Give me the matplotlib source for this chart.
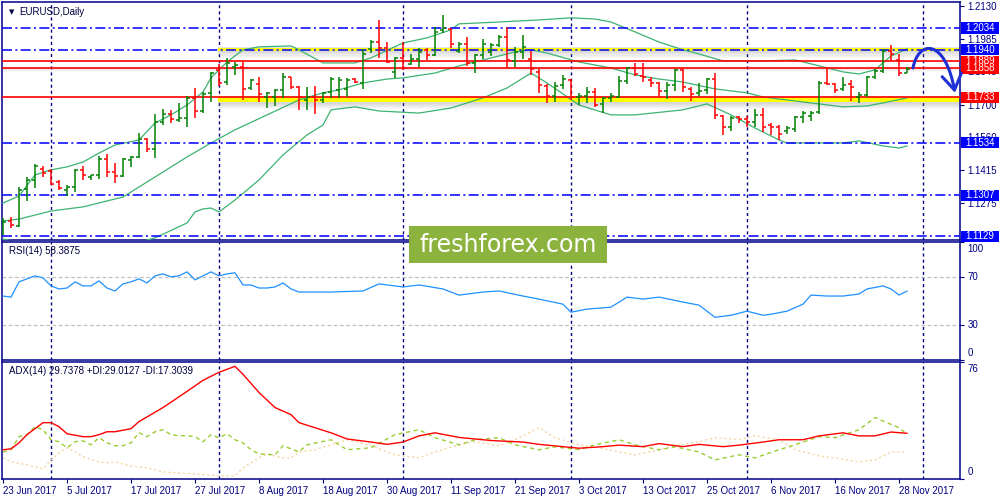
import matplotlib
matplotlib.use('Agg')
import matplotlib.pyplot as plt
from matplotlib.patches import Rectangle, FancyArrowPatch
from matplotlib.path import Path

plt.rcParams['font.family'] = ['Liberation Sans', 'DejaVu Sans']

# EURUSD daily bars, one per trading day from 23 Jun 2017
opens = [1.1147, 1.1195, 1.1173, 1.1334, 1.1373, 1.1421, 1.1412, 1.1364, 1.1330, 1.1343,
         1.1417, 1.1386, 1.1395, 1.1464, 1.1408, 1.1391, 1.1460, 1.1473, 1.1551, 1.1508,
         1.1625, 1.1660, 1.1634, 1.1643, 1.1730, 1.1673, 1.1752, 1.1852, 1.1799, 1.1865,
         1.1865, 1.1773, 1.1791, 1.1734, 1.1734, 1.1765, 1.1821, 1.1778, 1.1721, 1.1734,
         1.1721, 1.1756, 1.1765, 1.1769, 1.1812, 1.1795, 1.1943, 1.1973, 1.1947, 1.1843,
         1.1904, 1.1878, 1.1899, 1.1939, 1.1917, 1.2026, 1.2030, 1.1934, 1.1965, 1.1882,
         1.1917, 1.1930, 1.1960, 1.1995, 1.1891, 1.1930, 1.1899, 1.1843, 1.1782, 1.1738,
         1.1786, 1.1808, 1.1734, 1.1738, 1.1756, 1.1704, 1.1730, 1.1734, 1.1804, 1.1860,
         1.1825, 1.1808, 1.1795, 1.1760, 1.1786, 1.1852, 1.1769, 1.1752, 1.1765, 1.1812,
         1.1651, 1.1604, 1.1647, 1.1638, 1.1625, 1.1656, 1.1612, 1.1604, 1.1586, 1.1595,
         1.1647, 1.1651, 1.1669, 1.1795, 1.1791, 1.1769, 1.1791, 1.1734, 1.1743, 1.1821,
         1.1847, 1.1934, 1.1895, 1.1838]
highs = [1.1208, 1.1212, 1.1343, 1.1386, 1.1443, 1.1434, 1.1421, 1.1373, 1.1351, 1.1421,
         1.1434, 1.1395, 1.1477, 1.1486, 1.1447, 1.1469, 1.1477, 1.1577, 1.1556, 1.1660,
         1.1682, 1.1678, 1.1708, 1.1738, 1.1773, 1.1756, 1.1843, 1.1878, 1.1904, 1.1886,
         1.1886, 1.1812, 1.1821, 1.1756, 1.1769, 1.1838, 1.1821, 1.1782, 1.1778, 1.1782,
         1.1756, 1.1821, 1.1821, 1.1817, 1.1817, 1.1943, 1.1982, 1.2069, 1.1973, 1.1908,
         1.1973, 1.1921, 1.1947, 1.1947, 1.2039, 1.2091, 1.2034, 1.1973, 1.1995, 1.1921,
         1.1986, 1.1969, 1.2004, 1.2039, 1.1952, 1.2004, 1.1934, 1.1856, 1.1791, 1.1799,
         1.1830, 1.1812, 1.1752, 1.1778, 1.1773, 1.1734, 1.1752, 1.1825, 1.1865, 1.1882,
         1.1882, 1.1821, 1.1799, 1.1799, 1.1856, 1.1856, 1.1778, 1.1795, 1.1817, 1.1838,
         1.1656, 1.1651, 1.1651, 1.1651, 1.1682, 1.1686, 1.1621, 1.1612, 1.1608, 1.1651,
         1.1673, 1.1673, 1.1804, 1.1860, 1.1795, 1.1821, 1.1808, 1.1756, 1.1825, 1.1856,
         1.1943, 1.1960, 1.1921, 1.1865]
lows = [1.1134, 1.1164, 1.1169, 1.1282, 1.1338, 1.1386, 1.1351, 1.1330, 1.1303, 1.1321,
        1.1373, 1.1373, 1.1377, 1.1386, 1.1360, 1.1386, 1.1430, 1.1469, 1.1495, 1.1469,
        1.1612, 1.1621, 1.1625, 1.1604, 1.1643, 1.1664, 1.1712, 1.1782, 1.1786, 1.1830,
        1.1721, 1.1765, 1.1712, 1.1686, 1.1695, 1.1730, 1.1769, 1.1678, 1.1678, 1.1660,
        1.1708, 1.1730, 1.1730, 1.1734, 1.1795, 1.1769, 1.1925, 1.1904, 1.1882, 1.1817,
        1.1852, 1.1873, 1.1865, 1.1895, 1.1912, 1.2012, 1.1947, 1.1925, 1.1869, 1.1838,
        1.1899, 1.1912, 1.1952, 1.1860, 1.1865, 1.1899, 1.1830, 1.1752, 1.1708, 1.1712,
        1.1769, 1.1721, 1.1699, 1.1708, 1.1691, 1.1664, 1.1712, 1.1730, 1.1791, 1.1825,
        1.1799, 1.1778, 1.1734, 1.1725, 1.1760, 1.1756, 1.1717, 1.1738, 1.1747, 1.1638,
        1.1569, 1.1586, 1.1621, 1.1604, 1.1604, 1.1582, 1.1569, 1.1547, 1.1573, 1.1582,
        1.1621, 1.1630, 1.1660, 1.1786, 1.1752, 1.1760, 1.1717, 1.1708, 1.1734, 1.1812,
        1.1838, 1.1891, 1.1825, 1.1838]
closes = [1.1190, 1.1177, 1.1330, 1.1373, 1.1434, 1.1404, 1.1356, 1.1338, 1.1343, 1.1417,
          1.1395, 1.1395, 1.1464, 1.1408, 1.1391, 1.1464, 1.1473, 1.1551, 1.1508, 1.1625,
          1.1660, 1.1638, 1.1643, 1.1730, 1.1673, 1.1747, 1.1838, 1.1795, 1.1882, 1.1873,
          1.1769, 1.1808, 1.1747, 1.1752, 1.1765, 1.1821, 1.1778, 1.1734, 1.1734, 1.1721,
          1.1752, 1.1812, 1.1808, 1.1808, 1.1799, 1.1921, 1.1973, 1.1947, 1.1886, 1.1904,
          1.1860, 1.1899, 1.1930, 1.1917, 1.2017, 1.2034, 1.1965, 1.1965, 1.1882, 1.1917,
          1.1965, 1.1960, 1.1995, 1.1895, 1.1930, 1.1952, 1.1856, 1.1786, 1.1738, 1.1782,
          1.1812, 1.1734, 1.1738, 1.1756, 1.1699, 1.1730, 1.1738, 1.1804, 1.1860, 1.1834,
          1.1821, 1.1795, 1.1760, 1.1786, 1.1852, 1.1778, 1.1747, 1.1760, 1.1812, 1.1656,
          1.1604, 1.1643, 1.1638, 1.1625, 1.1656, 1.1604, 1.1604, 1.1573, 1.1599, 1.1647,
          1.1664, 1.1664, 1.1795, 1.1791, 1.1765, 1.1786, 1.1778, 1.1743, 1.1821, 1.1847,
          1.1934, 1.1921, 1.1838, 1.1856]

# Bollinger bands (bar index, price)
bb_up_bar = [0, 2, 4, 6, 8, 10, 12, 14, 17, 19, 21, 23, 25, 26, 28, 30, 32, 36, 37, 40, 44, 46,
             50, 53, 56, 57, 62, 67, 71, 74, 76, 79, 82, 85, 87, 90, 95, 99, 101, 105, 107,
             109, 111, 113]
bb_up = [1.1273, 1.1303, 1.1395, 1.1417, 1.1430, 1.1451, 1.1490, 1.1525, 1.1547, 1.1621,
         1.1656, 1.1699, 1.1756, 1.1817, 1.1886, 1.1939, 1.1952, 1.1956, 1.1939, 1.1882,
         1.1882, 1.1904, 1.1969, 1.1991, 1.2026, 1.2052, 1.2060, 1.2069, 1.2078, 1.2073,
         1.2060, 1.2017, 1.1973, 1.1939, 1.1921, 1.1891, 1.1891, 1.1895, 1.1878, 1.1843,
         1.1834, 1.1852, 1.1912, 1.1943]
bb_mid_bar = [0, 2, 6, 10, 15, 19, 23, 26, 29, 33, 37, 40, 42, 45, 48, 50, 54, 57, 60, 64, 66,
              68, 72, 76, 79, 82, 85, 89, 93, 95, 97, 101, 105, 108, 110, 113]
bb_mid = [1.1195, 1.1203, 1.1238, 1.1256, 1.1299, 1.1386, 1.1473, 1.1534, 1.1591, 1.1656,
          1.1721, 1.1752, 1.1765, 1.1795, 1.1812, 1.1817, 1.1838, 1.1869, 1.1895, 1.1930,
          1.1939, 1.1925, 1.1886, 1.1860, 1.1830, 1.1812, 1.1799, 1.1769, 1.1752, 1.1734,
          1.1725, 1.1708, 1.1691, 1.1695, 1.1708, 1.1730]
bb_lo_bar = [0, 2, 4, 8, 14, 18, 19, 23, 24, 25, 26, 27, 29, 32, 35, 38, 40, 41, 44, 47, 52,
             56, 60, 63, 66, 68, 72, 76, 79, 85, 88, 91, 94, 97, 98, 105, 107, 110, 112, 113]
bb_lo = [1.1116, 1.1103, 1.1082, 1.1060, 1.1069, 1.1112, 1.1121, 1.1186, 1.1234, 1.1247,
         1.1251, 1.1234, 1.1286, 1.1373, 1.1482, 1.1569, 1.1612, 1.1678, 1.1691, 1.1673,
         1.1664, 1.1686, 1.1730, 1.1773, 1.1838, 1.1795, 1.1699, 1.1656, 1.1656, 1.1678,
         1.1704, 1.1656, 1.1599, 1.1547, 1.1534, 1.1534, 1.1543, 1.1521, 1.1512, 1.1521]

# RSI(14)
rsi_bar = list(range(38)) + [41, 45, 47, 50, 52, 55, 57, 60, 62, 65, 67, 70, 71, 73, 76, 78,
                             80, 82, 85, 87, 89, 91, 93, 95, 96, 98, 100, 101, 103, 105,
                             107, 108, 110, 111, 112, 113]
rsi_values = [54.2, 53.3, 66.2, 68.8, 71.3, 69.6, 62.8, 60.2, 61.0, 66.2,
              62.8, 62.8, 67.0, 61.0, 58.5, 64.5, 66.2, 68.8, 65.3, 71.3,
              73.0, 70.5, 71.3, 74.7, 67.9, 71.3, 74.7, 71.3, 73.0, 73.9,
              63.6, 63.6, 61.0, 61.0, 61.9, 65.3, 60.2, 57.6,
              57.6, 58.5, 64.5, 61.9, 63.6, 60.2, 55.0, 57.6, 58.5, 54.2,
              51.6, 47.3, 40.5, 43.1, 44.8, 53.3, 51.6, 53.3, 49.1, 46.5,
              36.2, 37.9, 41.4, 37.9, 38.8, 41.4, 47.3, 55.0, 54.2, 54.2,
              55.9, 60.2, 62.8, 60.2, 55.0, 58.4]

# ADX(14) with +DI / -DI
adx_bar = [0, 1, 2, 3, 5, 6, 7, 8, 10, 11, 12, 13, 14, 16, 17, 20, 23, 25, 27, 29, 30, 32, 34,
           36, 37, 41, 43, 46, 48, 50, 52, 54, 57, 61, 65, 67, 70, 72, 75, 77, 80, 82, 85, 87,
           90, 92, 95, 97, 100, 102, 105, 107, 109, 111, 113]
adx_values = [19.0, 19.6, 23.5, 28.8, 36.6, 36.6, 34.0, 29.4, 27.5, 27.5, 28.8, 30.7, 30.7,
              32.7, 37.3, 46.4, 56.9, 64.1, 69.3, 73.2, 68.0, 56.2, 46.4, 41.8, 36.6, 30.0,
              26.0, 24.0, 22.5, 24.0, 28.0, 30.0, 27.0, 25.0, 24.0, 22.5, 21.0, 20.0, 21.0,
              22.0, 21.0, 23.0, 21.0, 22.5, 21.0, 22.0, 24.0, 25.5, 25.5, 28.0, 30.0, 28.0,
              28.0, 30.5, 29.7]
pdi_bar = list(range(33)) + [34, 35, 36, 37, 38, 41, 43, 46, 49, 52, 54, 57, 59, 62, 64, 67,
                             69, 72, 74, 77, 79, 82, 84, 87, 89, 92, 94, 97, 99, 102, 104,
                             107, 109, 112, 113]
pdi_values = [17.6, 19.0, 27.5, 28.8, 34.0, 32.0, 25.5, 24.2, 20.3, 24.2,
              24.8, 22.2, 26.8, 23.5, 21.6, 21.6, 23.5, 30.1, 27.5, 30.7,
              32.0, 28.8, 28.1, 28.1, 27.5, 24.2, 28.8, 26.8, 29.4, 25.5,
              23.5, 19.0, 16.3, 15.7, 21.6, 19.6, 17.6,
              22.2, 25.5, 19.0, 20.3, 28.8, 32.0, 26.8, 22.2, 25.5, 26.8,
              22.2, 19.0, 20.9, 19.0, 22.2, 25.5, 22.2, 19.0, 20.9, 17.6,
              12.4, 15.7, 13.7, 19.0, 22.2, 27.5, 26.8, 32.0, 39.9, 33.3, 29.0]
mdi_bar = [0, 1, 3, 5, 6, 7, 8, 9, 10, 12, 13, 14, 16, 18, 20, 22, 24, 27, 29, 30, 31, 32,
           33, 34, 35, 36, 37, 39, 41, 43, 46, 49, 52, 54, 57, 59, 62, 64, 67, 69, 72, 74,
           77, 79, 82, 84, 87, 89, 92, 94, 97, 99, 102, 104, 107, 109, 111, 113]
mdi_values = [13.7, 11.1, 9.2, 6.5, 12.4, 17.0, 20.3, 17.6, 14.4, 11.1, 10.5, 11.1, 8.5,
              7.2, 4.6, 3.9, 3.3, 2.0, 2.0, 7.2, 10.5, 13.7, 16.3, 15.0, 13.7, 13.7, 17.6,
              19.0, 22.2, 25.5, 21.6, 15.7, 13.7, 17.6, 22.2, 24.2, 21.6, 25.5, 33.3,
              26.8, 22.2, 20.9, 17.6, 15.7, 19.0, 21.6, 24.2, 26.8, 25.5, 28.1, 25.5,
              19.0, 15.0, 13.7, 11.1, 12.4, 17.6, 17.3]

# levels drawn on the chart
blue_levels = [1.2034, 1.1940, 1.1534, 1.1307, 1.1129]
red_levels = [1.1889, 1.1858, 1.1733]
price_ticks = [1.2130, 1.1985, 1.1845, 1.1700, 1.1560, 1.1415, 1.1275]
month_start_bars = [6, 27, 50, 71, 93, 115]
date_bars = [0, 8, 16, 24, 32, 40, 48, 56, 64, 72, 80, 88, 96, 104, 112]
date_labels = ['23 Jun 2017', '5 Jul 2017', '17 Jul 2017', '27 Jul 2017', '8 Aug 2017',
               '18 Aug 2017', '30 Aug 2017', '11 Sep 2017', '21 Sep 2017', '3 Oct 2017',
               '13 Oct 2017', '25 Oct 2017', '6 Nov 2017', '16 Nov 2017', '28 Nov 2017']

navy = '#000080'
frame_blue = '#00008b'

fig = plt.figure(figsize=(10, 5), dpi=100)
ax = fig.add_axes([0.002, 0.52, 0.958, 0.476])
ax_rsi = fig.add_axes([0.002, 0.28, 0.958, 0.236])
ax_adx = fig.add_axes([0.002, 0.042, 0.958, 0.234])

for a in (ax, ax_rsi, ax_adx):
    a.set_xlim(-0.125, 119.625)
    for s in a.spines.values():
        s.set_color(frame_blue)
        s.set_linewidth(1.1)
    a.yaxis.tick_right()
    a.tick_params(axis='y', colors=navy, labelsize=7, length=3, width=0.8, pad=2)
    a.tick_params(axis='x', colors=navy, labelsize=7, length=3, width=0.8, pad=2)
    for m in month_start_bars:
        a.axvline(m, color=navy, lw=1.0, ls=(0, (2.2, 2.2)), zorder=1)

# ---- main price panel ----
ax.set_ylim(1.1112, 1.2147)
ax.set_yticks(price_ticks)
ax.set_yticklabels(['%.4f' % p for p in price_ticks])
ax.set_xticks([])

for p in blue_levels:
    ax.axhline(p, color='#1010ff', lw=1.2, ls=(0, (6, 2, 1.2, 2)), zorder=4)

# yellow highlighted zones with a soft shadow
for top, bottom in [(1.1949, 1.1934), (1.1733, 1.1710)]:
    for k in range(6):
        ax.add_patch(Rectangle((26.9, bottom - (k + 1) * 0.0005), 130, 0.0005,
                               color='#888888', alpha=0.32 * (1 - k / 6.0), lw=0, zorder=2))
    ax.add_patch(Rectangle((26.9, top), 130, 0.0004, color='#aaaaaa', alpha=0.3, lw=0, zorder=2))
    ax.add_patch(Rectangle((26.9, bottom), 130, top - bottom, color='#ffff00', lw=0, zorder=2.5))

for k in range(4):
    ax.add_patch(Rectangle((-1, 1.1858 - (k + 1) * 0.0004), 130, 0.0004,
                           color='#999999', alpha=0.25 * (1 - k / 4.0), lw=0, zorder=2))
for p in red_levels:
    ax.axhline(p, color='#ff0000', lw=1.2, zorder=4)

ax.plot(bb_up_bar, bb_up, color='#3cb371', lw=0.9, zorder=3)
ax.plot(bb_mid_bar, bb_mid, color='#3cb371', lw=0.9, zorder=3)
ax.plot(bb_lo_bar, bb_lo, color='#3cb371', lw=0.9, zorder=3)

for i in range(len(closes)):
    c = '#008000' if closes[i] >= opens[i] else '#ff0000'
    ax.plot([i, i], [lows[i], highs[i]], color=c, lw=1.1, zorder=5, solid_capstyle='butt')
    ax.plot([i - 0.4, i], [opens[i], opens[i]], color=c, lw=1.1, zorder=5, solid_capstyle='butt')
    ax.plot([i, i + 0.4], [closes[i], closes[i]], color=c, lw=1.1, zorder=5, solid_capstyle='butt')

# price labels for the horizontal levels, later ones drawn over earlier ones
tr = ax.get_yaxis_transform()
z = 10
for p in blue_levels + red_levels:
    fc = '#0000ff' if p in blue_levels else '#ff0000'
    ax.add_patch(Rectangle((1.001, p - 0.0024), 0.04, 0.0048, transform=tr, color=fc,
                           clip_on=False, zorder=z, lw=0))
    ax.text(1.006, p, '%.4f' % p, transform=tr, color='white', fontsize=7,
            va='center', ha='left', zorder=z + 0.5, clip_on=False)
    z += 1

ax.text(0.007, 0.958, '\u25bc', transform=ax.transAxes, fontsize=5, color='#000040',
        va='center', ha='left', family=['DejaVu Sans'])
ax.text(0.018, 0.958, 'EURUSD,Daily', transform=ax.transAxes, fontsize=7, color='#000040',
        va='center', ha='left')

# forecast arrow
verts = [(113.75, 1.1860), (114.4, 1.1982), (117.75, 1.1991), (119.0, 1.1752)]
arrow_path = Path(verts, [Path.MOVETO, Path.CURVE4, Path.CURVE4, Path.CURVE4])
arrow = FancyArrowPatch(path=arrow_path, arrowstyle='->,head_length=0.55,head_width=0.35',
                        mutation_scale=20, color='#1f2fd6', lw=2.2, clip_on=False, zorder=30)
ax.add_patch(arrow)

# ---- RSI panel ----
ax_rsi.set_ylim(0, 100)
ax_rsi.set_yticks([100, 70, 30, 0])
ax_rsi.set_yticklabels(['', '', '', ''])
ax_rsi.set_xticks([])
ax_rsi.axhline(70, color='#c0c0c0', lw=0.9, ls=(0, (3, 2)), zorder=1)
ax_rsi.axhline(30, color='#c0c0c0', lw=0.9, ls=(0, (3, 2)), zorder=1)
ax_rsi.plot(rsi_bar, rsi_values, color='#1e90ff', lw=0.9, zorder=3)
rtr = ax_rsi.get_yaxis_transform()
ax_rsi.text(1.008, 98, '100', transform=rtr, color=navy, fontsize=7, va='top', ha='left')
ax_rsi.text(1.008, 70, '70', transform=rtr, color=navy, fontsize=7, va='center', ha='left')
ax_rsi.text(1.008, 30, '30', transform=rtr, color=navy, fontsize=7, va='center', ha='left')
ax_rsi.text(1.008, 2, '0', transform=rtr, color=navy, fontsize=7, va='bottom', ha='left')
ax_rsi.text(0.007, 0.92, 'RSI(14) 58.3875', transform=ax_rsi.transAxes, fontsize=7,
            color='#000040', va='center', ha='left')

# ---- ADX panel ----
ax_adx.set_ylim(0, 76)
ax_adx.set_yticks([76, 0])
ax_adx.set_yticklabels(['', ''])
ax_adx.plot(mdi_bar, mdi_values, color='#f5d5a0', lw=1.0, ls=(0, (1.5, 2)), zorder=2)
ax_adx.plot(pdi_bar, pdi_values, color='#9acd32', lw=1.0, ls=(0, (3, 2.5)), zorder=3)
ax_adx.plot(adx_bar, adx_values, color='#ff0000', lw=1.0, zorder=4)
atr = ax_adx.get_yaxis_transform()
ax_adx.text(1.008, 75, '76', transform=atr, color=navy, fontsize=7, va='top', ha='left')
ax_adx.text(1.008, 1, '0', transform=atr, color=navy, fontsize=7, va='bottom', ha='left')
ax_adx.text(0.007, 0.92, 'ADX(14) 29.7378 +DI:29.0127 -DI:17.3039', transform=ax_adx.transAxes,
            fontsize=7, color='#000040', va='center', ha='left')
ax_adx.set_xticks(date_bars)
ax_adx.set_xticklabels(date_labels, ha='left')

# watermark
fig.patches.append(Rectangle((0.409, 0.474), 0.198, 0.074, transform=fig.transFigure,
                             color='#8db33f', lw=0, zorder=20))
fig.text(0.508, 0.511, 'freshforex.com', color='white', fontsize=17, ha='center', va='center',
         family=['DejaVu Sans'], zorder=21)

fig.savefig('out.png', dpi=100, facecolor='white')
